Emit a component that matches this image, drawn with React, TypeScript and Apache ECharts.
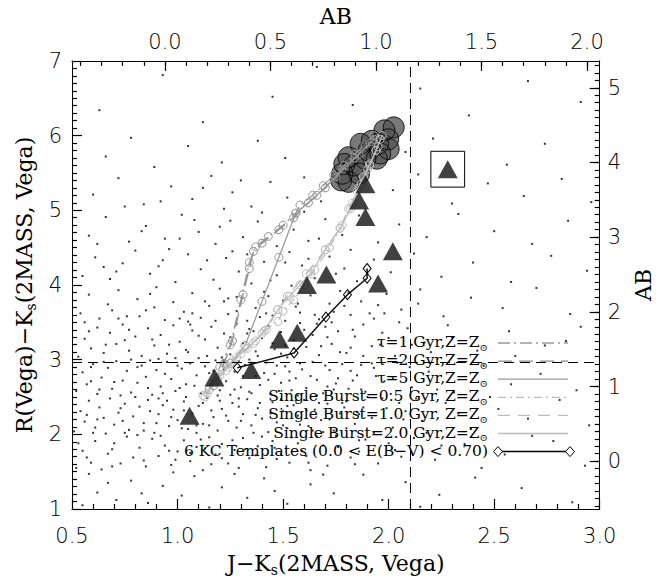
import React, { useEffect, useRef } from "react";
import * as echarts from "echarts";

// Offsets between Vega and AB colours (top / right axes)
const AB_OFFSET_X = 0.94;
const AB_OFFSET_Y = 1.64;

const xRange = [0.5, 3.0];
const yRange = [1, 7];
const topTickLabels = [0, 0.5, 1.0, 1.5, 2.0];
const rightTickLabels = [0, 1, 2, 3, 4, 5];

// background galaxies (J-Ks, R-Ks)
const fieldDots: number[][] = [
  [0.55,1.05],[0.62,1.22],[0.71,1.12],[0.78,1.38],[0.86,1.08],[0.93,1.31],[1.02,1.18],[1.08,1.44],[1.15,1.02],[1.21,1.29],[1.33,1.15],[1.41,1.41],[1.52,1.07],[1.63,1.33],[1.74,1.21],[1.88,1.46],[1.97,1.12],[2.08,1.36],[2.24,1.19],[2.41,1.42],[2.63,1.28],[2.87,1.09],[0.58,1.47],[0.67,1.35],[0.98,1.49],[1.27,1.47],[1.46,1.24],[1.69,1.46],[2.15,1.03],[0.83,1.21],
  [0.52,1.55],[0.55,1.78],[0.59,1.62],[0.61,1.91],[0.64,1.53],[0.67,1.74],[0.70,1.88],[0.73,1.61],[0.76,1.97],[0.79,1.69],[0.82,1.82],[0.85,1.57],[0.88,1.94],[0.91,1.71],[0.94,1.85],[0.97,1.59],[1.00,1.77],[1.03,1.92],[1.06,1.64],[1.09,1.83],[1.12,1.52],[1.15,1.96],[1.18,1.73],[1.21,1.87],[1.24,1.61],[1.27,1.79],[1.31,1.95],[1.34,1.68],[1.38,1.84],[1.42,1.56],[1.45,1.91],[1.49,1.74],[1.53,1.62],[1.57,1.88],[1.61,1.71],[1.66,1.97],[1.71,1.58],[1.76,1.83],[1.82,1.69],[1.89,1.93],[1.95,1.61],[2.03,1.79],[2.12,1.95],[2.22,1.66],[2.36,1.87],[2.55,1.73],[2.78,1.91],[2.93,1.58],[0.57,1.69],[0.69,1.57],[0.81,1.99],[0.99,1.66],[1.13,1.81],[1.29,1.55],[1.47,1.67],[1.63,1.52],[1.86,1.77],[2.44,1.55],
  [0.51,2.04],[0.54,2.31],[0.56,2.17],[0.58,2.45],[0.61,2.09],[0.63,2.36],[0.65,2.22],[0.68,2.48],[0.70,2.13],[0.72,2.29],[0.75,2.41],[0.77,2.06],[0.79,2.24],[0.82,2.37],[0.84,2.15],[0.86,2.46],[0.89,2.02],[0.91,2.27],[0.93,2.39],[0.96,2.11],[0.98,2.33],[1.00,2.19],[1.03,2.44],[1.05,2.07],[1.07,2.28],[1.10,2.38],[1.12,2.14],[1.14,2.49],[1.17,2.23],[1.19,2.05],[1.21,2.34],[1.24,2.18],[1.26,2.42],[1.28,2.09],[1.31,2.27],[1.33,2.47],[1.35,2.12],[1.38,2.35],[1.40,2.21],[1.43,2.03],[1.45,2.43],[1.47,2.16],[1.50,2.31],[1.52,2.08],[1.55,2.39],[1.57,2.25],[1.60,2.46],[1.62,2.11],[1.65,2.33],[1.68,2.19],[1.71,2.41],[1.74,2.05],[1.77,2.28],[1.80,2.44],[1.84,2.14],[1.88,2.36],[1.92,2.22],[1.97,2.48],[2.02,2.09],[2.08,2.31],[2.16,2.18],[2.27,2.42],[2.39,2.07],[2.52,2.34],[2.66,2.21],[2.81,2.46],[2.95,2.12],[0.66,2.01],[0.87,2.31],[1.09,2.02],[1.29,2.37],[1.49,2.47],[1.69,2.03],[1.86,2.27],[0.57,2.26],[0.74,2.18],[0.95,2.45],[1.16,2.32],[1.37,2.26],[1.58,2.13],[1.79,2.36],[2.05,2.42],
  [0.52,2.58],[0.55,2.83],[0.57,2.67],[0.60,2.94],[0.62,2.54],[0.64,2.76],[0.67,2.89],[0.69,2.61],[0.71,2.98],[0.74,2.72],[0.76,2.85],[0.78,2.56],[0.81,2.69],[0.83,2.92],[0.85,2.77],[0.88,2.53],[0.90,2.86],[0.92,2.64],[0.95,2.97],[0.97,2.74],[0.99,2.58],[1.02,2.88],[1.04,2.67],[1.06,2.95],[1.09,2.79],[1.11,2.55],[1.13,2.91],[1.16,2.66],[1.18,2.99],[1.20,2.59],[1.23,2.71],[1.25,2.53],[1.27,2.84],[1.30,2.63],[1.32,2.93],[1.34,2.57],[1.37,2.78],[1.39,2.66],[1.42,2.96],[1.44,2.54],[1.46,2.81],[1.49,2.69],[1.51,2.91],[1.54,2.59],[1.56,2.75],[1.59,2.87],[1.61,2.62],[1.64,2.97],[1.66,2.73],[1.69,2.55],[1.72,2.86],[1.75,2.68],[1.78,2.94],[1.81,2.61],[1.85,2.79],[1.89,2.57],[1.93,2.89],[1.98,2.71],[2.04,2.96],[2.11,2.63],[2.19,2.84],[2.31,2.56],[2.45,2.92],[2.58,2.67],[2.72,2.81],[2.89,2.59],[0.59,2.71],[0.73,2.52],[0.87,2.99],[1.01,2.62],[1.15,2.82],[1.29,2.98],[1.43,2.73],[1.57,2.52],[1.71,2.64],[1.87,2.93],[2.01,2.54],[0.65,2.97],[0.94,2.81],[1.22,2.87],[1.53,2.84],[1.83,2.72],
  [0.53,3.04],[0.56,3.28],[0.59,3.15],[0.62,3.43],[0.65,3.09],[0.68,3.36],[0.71,3.21],[0.74,3.47],[0.77,3.12],[0.80,3.31],[0.83,3.05],[0.86,3.42],[0.89,3.19],[0.92,3.33],[0.95,3.08],[0.98,3.46],[1.01,3.24],[1.04,3.13],[1.07,3.39],[1.10,3.02],[1.13,3.27],[1.16,3.44],[1.19,3.16],[1.22,3.35],[1.25,3.07],[1.28,3.48],[1.31,3.22],[1.34,3.41],[1.37,3.11],[1.40,3.29],[1.43,3.45],[1.46,3.14],[1.49,3.37],[1.52,3.03],[1.55,3.26],[1.58,3.49],[1.61,3.17],[1.64,3.33],[1.67,3.06],[1.70,3.44],[1.73,3.21],[1.76,3.38],[1.80,3.09],[1.84,3.31],[1.88,3.47],[1.92,3.18],[1.97,3.36],[2.03,3.05],[2.09,3.42],[2.17,3.23],[2.28,3.46],[2.42,3.12],[2.57,3.38],[2.74,3.19],[2.91,3.44],[0.58,3.38],[0.75,3.26],[0.91,3.01],[1.06,3.47],[1.21,3.03],[1.36,3.38],[1.51,3.19],[1.66,3.48],[1.82,3.16],[2.00,3.29],
  [0.54,3.62],[0.58,3.87],[0.63,3.55],[0.67,3.74],[0.72,3.93],[0.76,3.58],[0.81,3.81],[0.85,3.66],[0.90,3.97],[0.94,3.53],[0.98,3.77],[1.03,3.64],[1.07,3.89],[1.11,3.56],[1.15,3.72],[1.20,3.95],[1.24,3.61],[1.28,3.84],[1.33,3.52],[1.37,3.69],[1.41,3.91],[1.45,3.59],[1.50,3.79],[1.54,3.99],[1.58,3.63],[1.63,3.86],[1.67,3.54],[1.72,3.75],[1.77,3.92],[1.82,3.60],[1.87,3.78],[1.93,3.55],[1.99,3.88],[2.06,3.67],[2.15,3.94],[2.26,3.58],[2.39,3.83],[2.54,3.69],[2.70,3.96],[2.86,3.61],[0.69,3.66],[0.87,3.88],[1.05,3.51],[1.22,3.78],[1.39,3.57],[1.56,3.71],[1.74,3.64],[1.95,3.73],
  [0.55,4.12],[0.61,4.37],[0.68,4.08],[0.74,4.29],[0.80,4.46],[0.87,4.15],[0.93,4.33],[0.99,4.04],[1.05,4.41],[1.11,4.21],[1.17,4.07],[1.23,4.36],[1.29,4.18],[1.35,4.02],[1.41,4.31],[1.47,4.13],[1.53,4.44],[1.59,4.26],[1.65,4.09],[1.72,4.38],[1.79,4.22],[1.85,4.05],[1.93,4.34],[2.01,4.17],[2.12,4.42],[2.25,4.11],[2.40,4.30],[2.58,4.04],[2.77,4.39],[2.94,4.19],[0.65,4.24],[0.96,4.48],[1.26,4.45],[1.44,4.06],[1.62,4.35],[1.82,4.47],
  [0.58,4.66],[0.66,4.91],[0.77,4.58],[0.85,4.79],[0.94,4.62],[1.02,4.94],[1.10,4.71],[1.18,4.55],[1.25,4.86],[1.31,4.64],[1.40,4.97],[1.47,4.52],[1.55,4.74],[1.62,4.59],[1.70,4.88],[1.78,4.67],[1.86,4.93],[1.95,4.57],[2.05,4.81],[2.18,4.64],[2.33,4.95],[2.50,4.72],[2.68,4.55],[2.85,4.86],[1.08,4.87],[1.60,4.98],
  [0.60,5.21],[0.72,5.43],[0.84,5.08],[0.97,5.32],[1.07,5.15],[1.16,5.46],[1.26,5.24],[1.35,5.05],[1.44,5.38],[1.52,5.17],[1.60,5.44],[1.68,5.12],[2.02,5.27],[2.14,5.48],[2.30,5.09],[2.47,5.36],[2.64,5.19],[2.82,5.42],[2.96,5.11],[1.22,5.02],
  [0.66,5.72],[0.89,5.58],[1.05,5.86],[1.21,5.64],[1.38,5.93],[1.51,5.70],[2.08,5.78],[2.21,5.96],[2.56,5.61],[2.74,5.89],[0.78,5.97],
  [0.63,6.34],[1.12,6.18],[1.45,6.52],[1.83,6.41],[2.38,6.27],[2.66,6.73],[0.93,6.81],[1.66,6.92],[2.15,6.63],[2.91,6.45]
];
// additional galaxies in the crowded part of the diagram
const fieldDotsDense: number[][] = [
  [0.53,1.88],[0.60,2.02],[0.63,2.60],[0.66,3.20],[0.70,2.70],[0.72,3.55],[0.75,2.02],[0.78,3.00],[0.80,2.50],[0.82,3.58],[0.84,2.05],[0.86,2.62],[0.88,3.27],[0.90,2.15],[0.92,1.98],[0.93,2.55],[0.96,3.20],[0.97,2.23],[1.00,2.92],[1.01,3.55],[1.02,2.08],[1.04,2.50],[1.05,3.10],[1.06,1.75],[1.08,2.65],[1.10,3.32],[1.11,1.93],[1.12,2.42],[1.14,3.05],[1.15,2.12],[1.17,2.85],[1.18,3.52],[1.20,2.45],[1.21,1.68],[1.22,2.98],[1.23,2.25],[1.25,3.30],[1.26,1.92],[1.27,2.60],[1.28,3.65],[1.30,2.18],[1.31,2.78],[1.32,1.80],[1.33,3.35],[1.35,2.55],[1.36,2.02],[1.38,3.05],[1.39,2.42],[1.40,1.97],[1.41,2.82],[1.42,3.62],[1.44,2.28],[1.45,3.22],[1.46,1.82],[1.48,2.58],[1.49,3.08],[1.50,2.12],[1.51,3.52],[1.53,2.72],[1.54,1.96],[1.55,3.15],[1.56,2.45],[1.58,2.95],[1.59,1.78],[1.60,3.40],[1.61,2.32],[1.63,2.78],[1.64,2.05],[1.65,3.60],[1.66,2.52],[1.68,3.18],[1.69,1.85],[1.70,2.92],[1.72,2.20],[1.73,3.50],[1.74,2.60],[1.75,1.98],[1.77,3.10],[1.78,2.42],[1.79,3.72],[1.80,2.08],[1.82,2.85],[1.83,3.40],[1.85,2.30],[1.86,1.92],[1.88,3.05],[1.90,2.50],[1.91,3.62],[1.93,2.02],[1.94,2.78],[1.96,3.20],[1.99,2.35],[2.00,1.88],[2.02,2.75],[2.05,3.50],[2.07,2.20],[2.10,2.90],[2.13,2.48],[2.14,3.75],[2.18,2.02],[2.20,3.10],[2.23,2.60],[2.30,3.30],[2.33,2.28],[2.48,2.50],[2.60,3.05],[2.68,1.98],[2.84,3.25],
  [0.56,3.50],[0.59,2.90],[0.62,2.20],[0.69,1.80],[0.73,2.35],[0.77,3.40],[0.81,2.90],[0.84,1.65],[0.89,3.70],[0.91,2.48],[0.96,1.78],[0.99,3.02],[1.03,2.32],[1.07,3.62],[1.09,2.12],[1.13,3.78],[1.16,1.60],[1.19,2.52],[1.24,3.82],[1.29,2.48],[1.34,3.00],[1.37,1.72],[1.43,3.85],[1.47,2.92],[1.52,2.38],[1.57,3.75],[1.62,1.62],[1.67,2.42],[1.71,3.30],[1.76,2.75],[1.81,3.90],[1.84,1.60],[1.87,2.60],[1.92,2.95],[1.98,3.62],[2.06,1.70],[2.11,3.20],[2.25,1.85],
  [0.62,4.55],[0.71,4.18],[0.83,4.72],[0.91,4.25],[1.01,4.62],[1.14,4.33],[1.20,4.78],[1.33,4.41],[1.38,4.85],[1.51,4.30],[1.67,4.62],[1.75,4.15],[0.75,5.05],[0.92,5.12],[1.12,5.30],[1.30,5.40]
];

// large filled circles (cluster members)
const clusterCircles: number[][] = [
  [2.024,6.11],[1.998,5.95],[1.98,6.07],[1.95,5.89],[1.944,5.69],[1.92,5.93],[1.905,5.80],[1.89,5.69],[1.867,5.89],[1.86,5.49],[1.836,5.60],[1.81,5.71],[1.81,5.38],[1.79,5.62],[1.78,5.49],[1.775,5.40],[2.0,5.82],[1.96,5.76]
];

// filled triangles
const triangles: number[][] = [
  [1.057,2.25],[1.175,2.76],[1.349,2.86],[1.482,3.27],[1.567,3.36],[1.613,4.0],[1.705,4.14],[1.95,4.02],[2.02,4.45],[1.89,4.91],[1.86,5.13],[1.89,5.35],[2.28,5.55]
];
const boxCorners = [[2.2, 5.31], [2.36, 5.79]];

// model tracks
const tau1: number[][] = [[1.15,2.60],[1.20,2.90],[1.25,3.20],[1.30,3.80],[1.34,4.30],[1.37,4.51],[1.43,4.65],[1.50,4.80],[1.56,4.96],[1.58,5.07],[1.64,5.20],[1.69,5.33],[1.74,5.47],[1.79,5.60],[1.84,5.75],[1.89,5.88],[1.93,6.00]];
const tau2: number[][] = [[1.17,2.65],[1.22,2.95],[1.26,3.25],[1.31,3.87],[1.34,4.22],[1.36,4.45],[1.40,4.56],[1.48,4.74],[1.55,4.90],[1.62,5.10],[1.70,5.30],[1.78,5.55],[1.86,5.75],[1.92,5.92]];
const tau5: number[][] = [[1.18,2.70],[1.25,2.95],[1.32,3.19],[1.40,3.78],[1.48,4.37],[1.56,4.96],[1.66,5.20],[1.75,5.45],[1.84,5.70],[1.93,5.95]];
const sb05: number[][] = [[1.13,2.50],[1.19,2.74],[1.23,2.85],[1.28,3.03],[1.32,3.16],[1.37,3.25],[1.41,3.38],[1.475,3.51],[1.50,3.65],[1.55,3.80],[1.60,4.00],[1.65,4.20],[1.72,4.50],[1.78,4.80],[1.83,5.10],[1.87,5.35],[1.91,5.60],[1.95,5.85]];
const sb10: number[][] = [[1.12,2.52],[1.18,2.70],[1.24,2.90],[1.30,3.08],[1.36,3.22],[1.42,3.40],[1.475,3.67],[1.52,3.85],[1.61,4.15],[1.70,4.47],[1.77,4.76],[1.81,5.02],[1.85,5.25],[1.88,5.45],[1.91,5.62],[1.94,5.80],[1.96,5.95]];
const sb20: number[][] = [[1.14,2.55],[1.20,2.78],[1.26,2.98],[1.33,3.15],[1.40,3.35],[1.475,3.67],[1.53,3.85],[1.58,4.00],[1.63,4.15],[1.70,4.47],[1.77,4.76],[1.82,5.02],[1.86,5.30],[1.90,5.55],[1.94,5.80],[1.97,6.00]];
const kcTemplates: number[][] = [[1.283,2.89],[1.552,3.09],[1.703,3.57],[1.805,3.87],[1.898,4.09],[1.898,4.22]];

const cutX = 2.1;
const cutY = 2.97;

const legendRows = [
  { text: "\u03c4=1 Gyr,Z=Z{s|\u2299}", color: "#9a9a9a", dash: [12, 4, 2, 4] as any, kind: "line" },
  { text: "\u03c4=2 Gyr,Z=Z{s|\u2299}", color: "#8c8c8c", dash: [14, 7] as any, kind: "line" },
  { text: "\u03c4=5 Gyr,Z=Z{s|\u2299}", color: "#9a9a9a", dash: "solid" as any, kind: "line" },
  { text: "Single Burst=0.5 Gyr, Z=Z{s|\u2299}", color: "#bdbdbd", dash: [8, 4, 2, 4] as any, kind: "line" },
  { text: "Single Burst=1.0 Gyr, Z=Z{s|\u2299}", color: "#bdbdbd", dash: [12, 8] as any, kind: "line" },
  { text: "Single Burst=2.0 Gyr,Z=Z{s|\u2299}", color: "#bdbdbd", dash: "solid" as any, kind: "line" },
  { text: "6 KC Templates (0.0 < E(B\u2212V) < 0.70)", color: "#000", dash: "solid" as any, kind: "kc" },
];

const SERIF = "'DejaVu Serif', serif";
const SANS = "'DejaVu Sans', sans-serif";

function range(a: number, b: number, step: number) {
  const out: number[] = [];
  for (let v = a; v <= b + 1e-9; v += step) out.push(Math.round(v * 100) / 100);
  return out;
}

export default function App() {
  const ref = useRef<HTMLDivElement>(null);
  useEffect(() => {
    if (!ref.current) return;
    const chart = echarts.init(ref.current, null, { renderer: "svg" });
    const gl = 72, gt = 58, gw = 542, gh = 451;

    const axisLine = { show: true, onZero: false, lineStyle: { color: "#000", width: 1 } };
    const tickLine = { color: "#000", width: 1.2 };
    const labelStyle = { fontFamily: SANS, fontSize: 21, fontWeight: 200 as any, color: "#000" };
    const nameStyle = {
      fontFamily: SERIF, fontSize: 22, color: "#000", lineHeight: 26,
      rich: { s: { fontFamily: SERIF, fontSize: 14, verticalAlign: "bottom", lineHeight: 12, color: "#000" } },
    };

    const topMin = xRange[0] - AB_OFFSET_X, topMax = xRange[1] - AB_OFFSET_X;
    const rMin = yRange[0] - AB_OFFSET_Y, rMax = yRange[1] - AB_OFFSET_Y;

    const trackSeries = (name: string, data: number[][], color: string, type: any) => ({
      name, type: "line", data, xAxisIndex: 0, yAxisIndex: 0,
      symbol: "circle", symbolSize: 8, showSymbol: true, z: 4,
      itemStyle: { color: "rgba(0,0,0,0)", borderColor: color, borderWidth: 1 },
      lineStyle: { color, width: 1.3, type },
    });

    const graphics: any[] = [];
    const rowY0 = 342, rowDy = 18.1, textRight = 488, lx1 = 498, lx2 = 568;
    legendRows.forEach((row, i) => {
      const y = rowY0 + i * rowDy;
      graphics.push({
        type: "text", x: textRight, y, z: 50,
        style: {
          text: row.text, align: "right", verticalAlign: "middle",
          font: `15.5px ${SERIF}`, fill: "#000", lineHeight: 20,
          rich: { s: { fontFamily: SERIF, fontSize: 10, verticalAlign: "bottom", lineHeight: 10, fill: "#000" } },
        },
      });
      if (row.kind === "line") {
        graphics.push({
          type: "line", z: 50, shape: { x1: lx1, y1: y + 1, x2: lx2, y2: y + 1 },
          style: { stroke: row.color, lineWidth: 1.3, lineDash: row.dash === "solid" ? null : row.dash },
        });
      } else {
        graphics.push({ type: "line", z: 50, shape: { x1: lx1 + 4, y1: y + 1, x2: lx2 - 2, y2: y + 1 }, style: { stroke: "#000", lineWidth: 1.5 } });
        [lx1, lx2 + 2].forEach((cx) => {
          graphics.push({
            type: "polygon", z: 51,
            shape: { points: [[cx, y - 4], [cx + 4.5, y + 1], [cx, y + 6], [cx - 4.5, y + 1]] },
            style: { fill: "#fff", stroke: "#000", lineWidth: 1 },
          });
        });
      }
    });

    const option: any = {
      animation: false,
      grid: { left: gl, top: gt, width: gw, height: gh },
      xAxis: [
        {
          type: "value", position: "bottom", min: xRange[0], max: xRange[1], interval: 0.5,
          axisLine, splitLine: { show: false },
          axisTick: { show: true, inside: true, length: 10, lineStyle: tickLine },
          minorTick: { show: true, splitNumber: 5, length: 5, lineStyle: tickLine },
          axisLabel: { ...labelStyle, margin: 16, formatter: (v: number) => v.toFixed(1) },
          name: "J\u2212K{s|s}(2MASS, Vega)", nameLocation: "middle", nameGap: 40, nameTextStyle: nameStyle,
        },
        {
          type: "value", position: "top", min: topMin, max: topMax,
          axisLine, splitLine: { show: false },
          axisTick: { show: true, inside: true, length: 10, customValues: topTickLabels, lineStyle: tickLine },
          axisLabel: { ...labelStyle, margin: 8, customValues: topTickLabels, formatter: (v: number) => v.toFixed(1) },
          name: "AB", nameLocation: "middle", nameGap: 32, nameTextStyle: { fontFamily: SERIF, fontSize: 22, color: "#000" },
        },
        {
          type: "value", position: "top", min: topMin, max: topMax,
          axisLine: { show: false, onZero: false }, splitLine: { show: false },
          axisTick: { show: true, inside: true, length: 5, customValues: range(-0.4, 2.0, 0.1), lineStyle: tickLine },
          axisLabel: { show: false },
        },
      ],
      yAxis: [
        {
          type: "value", position: "left", min: yRange[0], max: yRange[1], interval: 1,
          axisLine, splitLine: { show: false },
          axisTick: { show: true, inside: true, length: 10, lineStyle: tickLine },
          minorTick: { show: true, splitNumber: 10, length: 5, lineStyle: tickLine },
          axisLabel: { ...labelStyle, margin: 10 },
          name: "R(Vega)\u2212K{s|s}(2MASS, Vega)", nameLocation: "middle", nameGap: 34, nameTextStyle: nameStyle,
        },
        {
          type: "value", position: "right", min: rMin, max: rMax,
          axisLine, splitLine: { show: false },
          axisTick: { show: true, inside: true, length: 10, customValues: rightTickLabels, lineStyle: tickLine },
          axisLabel: { ...labelStyle, margin: 8, customValues: rightTickLabels },
          name: "AB", nameLocation: "middle", nameGap: 28, nameTextStyle: { fontFamily: SERIF, fontSize: 22, color: "#000" },
        },
        {
          type: "value", position: "right", min: rMin, max: rMax,
          axisLine: { show: false, onZero: false }, splitLine: { show: false },
          axisTick: { show: true, inside: true, length: 5, customValues: range(-0.6, 5.3, 0.1), lineStyle: tickLine },
          axisLabel: { show: false },
        },
      ],
      graphic: graphics,
      series: [
        {
          name: "field", type: "scatter", data: fieldDots.concat(fieldDotsDense), symbol: "rect", symbolSize: 2,
          itemStyle: { color: "#000" }, z: 1, silent: true,
          markLine: {
            silent: true, symbol: ["none", "none"], label: { show: false },
            lineStyle: { color: "#000", width: 1, type: [10, 6] },
            data: [{ xAxis: cutX }, { yAxis: cutY }],
          },
          markArea: {
            silent: true,
            itemStyle: { color: "rgba(0,0,0,0)", borderColor: "#000", borderWidth: 1 },
            data: [[{ coord: boxCorners[0] }, { coord: boxCorners[1] }]],
          },
        },
        {
          name: "cluster fill", type: "scatter", data: clusterCircles, symbol: "circle", symbolSize: 21,
          itemStyle: { color: "#575757" }, z: 2,
        },
        {
          name: "cluster edge", type: "scatter", data: clusterCircles, symbol: "circle", symbolSize: 21,
          itemStyle: { color: "rgba(0,0,0,0)", borderColor: "#000", borderWidth: 1 }, z: 3,
        },
        trackSeries("tau1", tau1, "#9a9a9a", [12, 4, 2, 4]),
        trackSeries("tau2", tau2, "#8c8c8c", [14, 7]),
        trackSeries("tau5", tau5, "#9a9a9a", "solid"),
        trackSeries("sb05", sb05, "#bdbdbd", [8, 4, 2, 4]),
        trackSeries("sb10", sb10, "#bdbdbd", [12, 8]),
        trackSeries("sb20", sb20, "#bdbdbd", "solid"),
        {
          name: "kc", type: "line", data: kcTemplates, symbol: "diamond", symbolSize: [8, 10], showSymbol: true, z: 5,
          itemStyle: { color: "rgba(0,0,0,0)", borderColor: "#000", borderWidth: 1 },
          lineStyle: { color: "#111", width: 1.5 },
        },
        {
          name: "triangles", type: "scatter", data: triangles, symbol: "triangle", symbolSize: [20, 18],
          itemStyle: { color: "#111" }, z: 6,
        },
      ],
    };
    chart.setOption(option);
    return () => chart.dispose();
  }, []);
  return <div ref={ref} style={{ position: "absolute", left: 0, top: 0, width: 662, height: 584 }} />;
}
